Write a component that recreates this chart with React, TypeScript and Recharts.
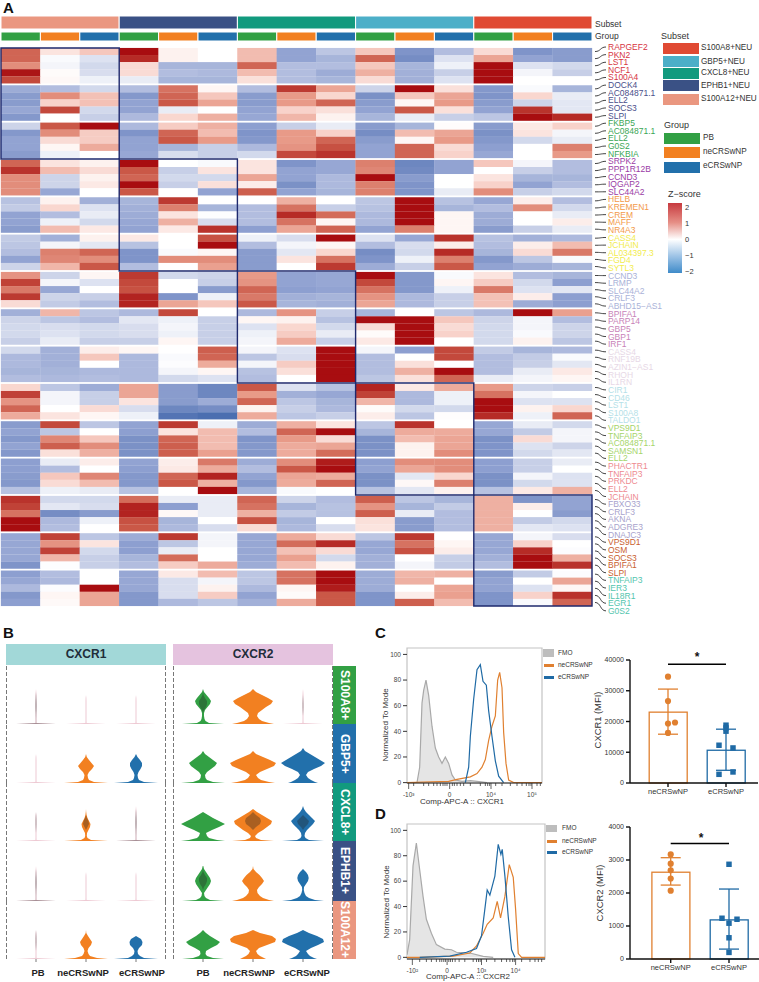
import {
  Area,
  Bar,
  BarChart,
  ComposedChart,
  ErrorBar,
  Line,
  ReferenceArea,
  ReferenceLine,
  Scatter,
  ScatterChart,
  XAxis,
  YAxis,
  ZAxis,
} from "recharts";

const FONT = "'Liberation Sans', Arial, sans-serif";

const subsetNames = ["S100A12+NEU", "EPHB1+NEU", "CXCL8+NEU", "GBP5+NEU", "S100A8+NEU"];
const subsetColors = ["#ea9780", "#3a5185", "#129a7e", "#4cafc8", "#e04a33"];
const groupNames = ["PB", "neCRSwNP", "eCRSwNP"];
const groupColors = ["#32a044", "#f28021", "#2270ab"];

const genes = [
  "RAPGEF2", "PKN2", "LST1", "NCF1", "S100A4",
  "DOCK4", "AC084871.1", "ELL2", "SOCS3", "SLPI",
  "FKBP5", "AC084871.1", "ELL2", "G0S2", "NFKBIA",
  "SRPK2", "PPP1R12B", "CCND3", "IQGAP2", "SLC44A2",
  "HELB", "KREMEN1", "CREM", "MAFF", "NR4A3",
  "CASS4", "JCHAIN", "AL034397.3", "FGD4", "SYTL3",
  "CCND3", "LRMP", "SLC44A2", "CRLF3", "ABHD15−AS1",
  "BPIFA1", "PARP14", "GBP5", "GBP1", "IRF1",
  "CASS4", "RNF19B", "AZIN1−AS1", "RHOH", "IL1RN",
  "CIR1", "CD46", "LST1", "S100A8", "TALDO1",
  "VPS9D1", "TNFAIP3", "AC084871.1", "SAMSN1", "ELL2",
  "PHACTR1", "TNFAIP3", "PRKDC", "ELL2", "JCHAIN",
  "FBXO33", "CRLF3", "AKNA", "ADGRE3", "DNAJC3",
  "VPS9D1", "OSM", "SOCS3", "BPIFA1", "SLPI",
  "TNFAIP3", "IER3", "IL18R1", "EGR1", "G0S2",
];
const geneColors = [
  "#d7343f", "#4a4f8a", "#3aa655", "#9a3ba5", "#f39a4a",
  "#f2ec4e", "#a9b2d8", "#c882b8", "#e7d8e6", "#b5dfe8",
  "#a5d56a", "#ee8a90", "#a8a3cc", "#c9602f", "#53c5ae",
];

// z-scores, one row per gene, 15 columns
const zRows = [
  [1.4, .3, .6, 2, .15, 0, .7, -1, -.6, .6, -1.2, -.7, .4, -1.2, -1.1],
  [1.4, -.05, -.3, 1.8, .15, 0, .7, -1, -.8, 1.4, -1.3, -.3, .9, -1, -1.1],
  [1.1, -.1, -.4, .4, -.8, -.8, 1.4, -.7, -.7, .6, -.8, -.15, 2, -.3, -.4],
  [1.95, .05, -.35, .4, -.7, -.75, .7, -.7, -.9, .8, -.85, -.5, 2, -.1, -.5],
  [1.6, .08, -.15, -.2, -.8, -.8, .35, -.7, -.8, .4, -.85, -.3, 2, 0, 0],

  [-.9, -.7, -.4, -.7, 1.3, .1, -.7, 1.7, .9, -.45, 2, .35, -1.15, -.05, -.8],
  [-1.1, 1.1, .65, -1.15, 1.4, .6, -1.1, 1, .45, -1.25, .6, .9, -1.2, .45, -.2],
  [-1.1, .5, .65, -1, 1.5, .9, -1.1, 1, 1.4, -1.1, .1, 1, -1.1, -.45, -.25],
  [-.95, 1.6, -.4, -1, -.2, 0, -1, .5, .35, -1, 1.5, .35, -1, 1.75, -.25],
  [-1.15, 0, -.5, -.75, .45, .8, -.95, .75, .15, -.8, -.2, -.5, -.6, 2, 1.8],

  [-.45, 1.5, 2, -.75, .55, .8, -1.05, -.5, -.2, -1.1, -.8, .03, -1.1, .25, .5],
  [-1.15, 1.1, .55, -1.2, 1.4, .7, -1.2, 1, .5, -1.3, .7, .9, -1.25, .3, -.1],
  [-1, .4, .55, -1, 1.5, 1, -1.15, 1, 1.4, -1.1, .1, 1, -1.15, -.4, -.2],
  [-1, .1, .85, -1, -.8, -.5, -.75, 1.05, 1.55, -1, 1.4, .4, -1.05, 0, 1.2],
  [-1.1, -.15, 0, -.95, -.35, -.5, -.4, 1.6, 1.75, -1, 1.4, .5, -.95, 0, 1],

  [1.4, .3, .15, 2, 0, -.05, .3, -1.2, -.95, 1.2, -1.4, -1, .6, -.1, -.7],
  [1.75, .7, .4, 1.5, -.5, .3, .3, -1, -.95, 1.15, -1.35, -1, 0, -.5, -.7],
  [1.1, -.45, .15, 1.4, -.4, -.4, .9, -1, -.75, 2, -1.1, 0, .3, -.8, -.8],
  [1.1, -.45, .25, 2, -.5, .35, .2, -1.25, -.75, 1.2, -1.2, 0, .5, -1, -.7],
  [1.1, -.95, 0, 1.5, 0, -1, 1.45, -1, -.8, 1.2, -1.2, -.2, 1.1, -.5, -.4],

  [-.65, .15, -.85, -.8, 1.7, 0, 0, .8, 0, -.6, 2, -.65, -.95, .2, -.7],
  [-.55, .45, -.3, -.85, 1.2, -.8, -.7, 1.3, -.5, -.65, 2, -.8, -.7, 1.1, -.4],
  [-1, -.7, -.2, -.9, .3, -.02, -.7, 1.8, 1.35, -.75, 2, .1, -.9, 0, -.2],
  [-1, -.15, -.4, -.95, .8, -.35, -.7, 1.3, .1, -.75, 2, .1, -.9, 0, .2],
  [-1.1, .7, .25, -1, .25, 1.75, -1.05, .9, 1.4, -1, 1.2, .1, -1.1, -.5, -.2],

  [-.55, -.85, .15, .25, 0, 1.55, -.15, -.35, 2, -.3, -.95, 1.75, -.65, -.85, -.75],
  [-.6, -.1, -.25, -.65, 0, 2, -.7, -.1, .1, -.7, -.35, .2, -.7, .2, .7],
  [-.7, 1.2, 1.4, -1.2, -.05, .1, -1.1, -.25, .45, -1.3, -.4, 1.8, -.8, .4, 1.25],
  [-1, 1.15, 1.1, -1.2, 1.1, 1.1, -1.1, .3, 1.3, -1.2, -.15, 1.2, -1.15, -.6, -.05],
  [-.45, .75, 1.5, -.7, 0, .95, -1.1, 0, 1.7, -.9, -.5, 1.5, -1, -.9, -.8],

  [1.05, -.45, .1, 1.7, -.4, -.45, 1, -1, -.95, 2, -1.15, -.05, .3, -.7, -.8],
  [1.65, -.1, -.3, 1.6, 0, -.5, 1.05, -1, -.95, 1.6, -1.15, .1, .55, -.4, -1.05],
  [1.25, -.95, 0, 1.55, 0, -1.1, 1.4, -1.05, -1, 1.3, -1.15, -.15, 1.25, -.3, -.25],
  [1.7, -.45, -.5, 1.85, -1.2, -.15, 1.25, -.85, -.8, 1.05, -.75, -.5, .65, .2, -1.05],
  [.4, -.55, -.7, 1.85, .9, .6, 1.5, -.8, -.85, .9, -.75, -.5, .65, -.9, -1.05],

  [-.85, .75, -.6, -.75, 1.6, 0, -.75, 1.05, -.5, -.8, 0, -.6, -.75, 2, .95],
  [-.45, -.6, -.7, -.25, -.15, -.5, .1, .15, -.65, 2, 2, .6, -.45, -.1, -.7],
  [-.4, -.35, -.4, -.35, -.1, -.5, -.3, .45, -.4, .4, 2, .4, -.4, -.1, -.45],
  [-.4, -.3, -.4, -.35, -.15, -.5, -.15, .55, -.2, .05, 2, .5, -.4, -.05, -.45],
  [-.5, -.2, -.5, -.5, .1, -.5, -.1, .85, -.5, .25, 2, 0, -.4, .15, -.6],

  [-.4, -.85, .2, .1, 0, 1.45, -.1, -.3, 2, -.1, -1.05, 1.6, -.55, -.8, -.75],
  [-.75, -.85, .6, -.75, -.05, 1.4, -.6, -.35, 2, -.7, 0, 1.6, -.7, -.55, -.05],
  [-.75, -.85, 0, -.75, -.03, .85, -.1, .55, 2, -.7, .35, 0, -.7, -.5, -.25],
  [-.8, -.8, -.75, -.75, -.1, .1, -.65, .35, 2, -.7, .8, 2, -.7, -.2, .25],
  [-.7, -.75, -.7, -.75, -.4, -.3, -.7, 0, 2, -.6, .35, 1.4, -.2, -.1, .1],

  [.45, -.6, -.9, .9, -1.1, -1.4, 1.5, -.3, -.65, 1.85, .25, .85, 1, -.45, -.5],
  [1.65, -.1, -.5, .9, -1.1, -1.4, 1, -.85, -.95, 1.65, -.75, -.15, 1.3, -.1, 0],
  [1.05, -.1, -.5, .3, -1.1, -.9, 1.4, -.6, -.8, .75, -.75, -.15, 2, -.3, -.3],
  [1.4, 0, .4, -.35, -1.4, -1.3, .15, -.5, -.75, .05, -.4, -.4, 2, .15, .45],
  [.85, .3, .1, -.15, -1.7, -1.8, .85, -.6, -.5, .2, -.6, .02, 1.8, -.15, 1.4],

  [-1.1, 1.6, -.6, -1, 1.7, -.15, -.9, .8, .3, -.6, 1.75, 0, -.95, -.2, -.4],
  [-1, -.6, 0, -1.05, .3, .7, -.7, 1.4, 2, -.8, .85, .85, -.95, -.55, -.1],
  [-1.15, 1.15, .6, -1.25, 1.4, .7, -1.2, 1, .4, -1.25, .7, .9, -1.25, .4, -.1],
  [-1, 1.45, 1.1, -1.25, 1.45, .7, -1.15, .85, .9, -1.25, .15, .9, -1.2, -.3, -.45],
  [-1.15, .35, .8, -1.25, 1.45, .95, -1.15, .85, 1.35, -1.25, .15, 1.1, -1.2, -.4, -.25],

  [-1.05, -.2, .2, -1, .2, 1.25, -.9, 1.1, 1.9, -1.05, 1.1, 1.1, -1.05, -.5, -.2],
  [-1.05, -.7, 0, -1.05, .25, .85, -.7, 1.5, 2, -1, .9, 1.1, -1.05, -.5, 0],
  [-1.1, .6, 1.15, -1.15, 1.4, 1.85, -1, .9, .85, -1.25, -.25, .45, -1.25, -.1, -.3],
  [-1.15, .4, .7, -1.15, 1.5, .8, -1.15, .85, 1.4, -1.25, .08, 1.2, -1.25, -.4, -.3],
  [-.65, -.15, -.2, -.65, 0, 2, -.8, -.05, 0, -.65, -.25, .15, -.65, .25, .8],

  [1.75, -.4, -.4, 1.35, -.2, -.2, 1.4, -.45, -.7, 1.45, -.6, -.8, .8, -1.2, -1],
  [1.65, -.25, -.35, 1.85, -1.05, -.2, 1.3, -.8, -.65, 1.05, -.8, -.55, .8, .2, -1],
  [1.3, -1.3, -1.1, 1.85, .08, -.2, .8, -.55, -.65, 1.45, -.2, -.7, .8, 0, -1.1],
  [2, -.75, -.15, 1.55, -.8, 0, 1.55, -.8, 0, .35, -1.1, -.7, .8, -.55, -.4],
  [2, -.7, 0, 1.5, -.75, -.35, .4, -.75, -.35, .3, -1.1, -.7, .8, -.25, -.3],

  [-.95, 1.65, -.6, -.9, 1.7, -.1, -.95, .85, .4, -.6, 1.7, 0, -.95, -.1, -.35],
  [-.95, 1.05, .3, -1.05, -.6, -.1, -.95, 1.35, 1.8, -.95, 1.3, .1, -.95, .5, 0],
  [-.95, 1.65, -.4, -1.05, -.2, 0, -.95, .65, .4, -.95, 1.55, .2, -.95, 1.8, -.03],
  [-.95, .75, -.5, -.8, 1.35, 0, -.95, .95, -.4, -.85, 0, -.5, -.85, 2, .8],
  [-1.2, -.02, -.5, -.7, .55, .85, -.9, .7, .15, -.85, -.1, -.55, -.7, 2, 1.75],

  [-1.05, -.7, 0, -.95, .25, .7, -.6, 1.3, 2, -.9, .75, .8, -1.1, -.55, -.03],
  [-.95, -.75, 0, -.95, -.35, -.1, -.6, 1.3, 2, -.9, .8, 0, -1, 0, .9],
  [-.75, -.03, 2, -.95, -.35, .15, -.75, .1, 1.9, -.9, 0, .9, -1, -.3, .1],
  [-1.15, .1, .9, -1.15, -.35, .55, -1, .05, 1.5, -1.2, .2, .95, -1.2, .5, 1.75],
  [-1.05, .07, .9, -1.15, -.75, -.6, -.85, .85, 1.5, -1.2, 1.45, .7, -1.2, -.05, 1.4],
];

// violin half widths at these heights above the baseline
const violinLevels = [0, 1, 3, 5, 8, 11, 14, 17, 20, 23, 26, 29, 32, 35];
const thinTall = [20, .6, .5, .5, .5, .5, .5, .5, .5, .5, .5, .5, .3, 0];
const thinShort = [20, .6, .5, .5, .5, .5, .5, .5, .5, .5, .4, 0, 0, 0];

const cxcr1Widths = [
  [thinTall, thinShort, thinShort],
  [thinShort, [22, 8, 3, 2, 1.5, 3, 6, 8, 5.5, 3, .8, 0, 0, 0], [22, 8, 3, 2, 1.5, 2.5, 4.5, 6, 6, 4, 1.5, 0, 0, 0]],
  [thinShort, [22, 5, 1.5, .8, 1, 2.5, 4, 4.5, 3, 1.5, .6, .2, 0, 0], thinTall],
  [thinTall, thinShort, thinShort],
  [thinShort, [22, 11, 4, 2.5, 1.5, 2.5, 5, 6, 4, 2, .3, 0, 0, 0], [22, 8, 4, 2, 1.5, 3, 6, 6.5, 5, 0, 0, 0, 0, 0]],
];
const cxcr2Widths = [
  [[21, 6, 2.5, 1.5, 1, 1, 2, 4.5, 7, 8, 6, 3.5, 1, 0], [21, 16, 9, 6, 4, 5, 9, 13, 18, 20, 15, 9, 3, 0], thinTall],
  [[22, 10, 4, 2.5, 2, 4, 8, 12, 14, 10, 6, 2, 0, 0], [22, 16, 8, 5, 3, 7, 14, 21, 23, 17, 10, 3, 0, 0], [15, 12, 8, 5, 3, 5, 11, 18, 22, 17, 12, 7, 2, 0]],
  [[22, 14, 6, 4, 3, 9, 16, 22, 16, 10, 5, 0, 0, 0], [21, 8, 3, 2, 5, 10, 14, 18, 19, 14, 9, 4, 0, 0], [21, 6, 2.5, 1.5, 2, 4, 7, 10, 12, 9, 6, 3, 1, 0]],
  [[21, 7, 3, 1.5, 1, 3, 5, 7, 8, 7, 5, 3, 1, .3], [21, 16, 10, 7, 4.5, 4, 6, 9, 11, 9, 6.5, 3, .5, 0], [21, 12, 6, 3, 1.5, .8, 1, 3, 5, 5.7, 5, 3, 0, 0]],
  [[21, 10, 4, 2.5, 3, 8, 14, 17, 12, 7, 3, 0, 0, 0], [13, 11, 7, 4.5, 3, 6, 14, 22, 23, 19, 7, 0, 0, 0], [14, 11, 7, 5, 3, 8, 15, 21, 20, 14, 6, 0, 0, 0]],
];

const coreNone = [0, 0, 0, 0, 0, 0, 0, 0, 0, 0, 0, 0, 0, 0];
const coreThin = [20, .2, .2, .2, .3, .4, .6, .7, .7, .6, .4, .2, 0, 0];
const coreFaint = [0, 0, 0, 0, 0, .2, .4, .5, .5, .4, .2, 0, 0, 0];
const cxcr1Cores = [
  [coreThin, coreNone, coreNone],
  [coreNone, coreNone, coreNone],
  [coreFaint, [0, 0, 0, 0, 0, 0, 1.5, 3, 2.5, 1, 0, 0, 0, 0], coreThin],
  [coreThin, coreNone, coreNone],
  [coreFaint, coreNone, coreNone],
];
const cxcr2Cores = [
  [[0, 0, 0, 0, 0, 0, 1, 3, 4, 4, 2, .5, 0, 0], coreNone, coreFaint],
  [coreNone, coreNone, coreNone],
  [coreNone, [0, 0, 0, 0, 0, 0, 3, 7, 8, 7, 3, 0, 0, 0], [0, 0, 0, 0, 0, 0, 2, 5, 6, 3, 0, 0, 0, 0]],
  [[0, 0, 0, 0, 0, 0, 1, 3, 4, 4, 2, .5, 0, 0], coreNone, coreNone],
  [coreNone, coreNone, coreNone],
];
const violinCenters = [30, 80, 130];
const cxcr1LabelShift = [2, -3, 6];
const cxcr2LabelShift = [0, -4, 4];
const stripLabels = ["S100A8+", "GBP5+", "CXCL8+", "EPHB1+", "S100A12+"];
const stripColors = ["#32a044", "#2270ab", "#129a7e", "#3a5185", "#ea9780"];
const facetBases = [724, 783, 841, 901, 959];

// flow cytometry overlays: [channel, % of mode]
const fmoC = [[110, 0], [140, 0], [148, 12], [155, 62], [160, 72], [167, 80], [175, 68], [185, 44], [195, 27], [205, 20], [215, 15], [225, 20], [235, 15], [245, 6], [255, 2], [275, 1], [300, 1.5], [320, 1], [350, 0]];
const neC = [[110, 0], [235, 1], [260, 2.5], [300, 4.5], [320, 7], [335, 12], [345, 18], [355, 33], [365, 44], [375, 52], [382, 80], [388, 86], [395, 74], [400, 39], [407, 15], [415, 2], [430, 0], [515, 0]];
const eC = [[285, 0], [295, 12], [300, 36], [310, 65], [320, 88], [330, 92], [338, 79], [348, 76], [355, 56], [365, 36], [375, 17], [385, 5], [400, 0]];
const fmoD = [[112, 2], [120, 14], [130, 72], [140, 90], [150, 69], [160, 48], [170, 30], [185, 19], [200, 10], [225, 6.5], [245, 6], [260, 4], [300, 3.4], [340, .8], [370, 0]];
const neD = [[112, 0], [150, 0], [250, 1], [300, 3.4], [320, 9], [340, 19], [352, 26], [370, 31], [382, 44], [392, 31], [405, 48], [418, 73], [430, 63], [437, 38], [445, 3], [455, 0], [525, 0]];
const eD = [[150, 0], [240, 1], [290, 4], [320, 7], [335, 17], [345, 38], [352, 53], [360, 49], [375, 64], [385, 89], [393, 81], [397, 85], [405, 64], [415, 32], [425, 6], [435, 0]];
const ticksC = [115, 130, 160, 175, 190, 200, 210, 218, 224, 230, 238, 246, 252, 260, 270, 280, 300, 330, 345, 352, 358, 362, 376, 395, 420, 440, 455, 468, 476, 482, 485, 500, 510];
const ticksD = [128, 150, 170, 185, 200, 210, 216, 222, 227, 232, 237, 242, 248, 256, 268, 285, 310, 320, 326, 331, 335, 350, 375, 395, 410, 420, 428, 433, 437, 455, 480, 495, 505, 515];
const majorC: Record<number, string> = { 115: "-10³", 238: "0", 362: "10⁴", 485: "10⁵" };
const majorD: Record<number, string> = { 128: "-10²", 232: "0", 335: "10³", 437: "10⁴" };
const histTicksY = [0, 20, 40, 60, 80, 100];

// MFI bars
const mfi1Means = [23040, 10650];
const mfi1ErrLow = [15870, 4130];
const mfi1ErrHigh = [30540, 17500];
const mfi1Ne = [[38, 34565], [38, 26630], [38, 19350], [45, 19670], [38, 16300]];
const mfi1E = [[96, 18800], [96, 17900], [96, 16850], [89, 12280], [103, 11400], [103, 3590], [89, 2826]];
const mfi2Means = [2630, 1185];
const mfi2ErrLow = [2240, 300];
const mfi2ErrHigh = [3070, 2120];
const mfi2Ne = [[40.7, 3170], [40.7, 2890], [40.7, 2690], [40.7, 2440], [40.7, 2070]];
const mfi2E = [[99, 2870], [92, 1235], [107, 1205], [99, 1085], [99, 643], [99, 200]];

const ROW_GAP = 0.27;
const rowPos = (i: number) => i + 0.5 + Math.floor(i / 5) * ROW_GAP;
const groupEdge = (g: number) => (g === 0 ? 0 : g === 15 ? 75 + 14 * ROW_GAP : g * (5 + ROW_GAP) - ROW_GAP / 2);

const colorStops: [number, number[]][] = [
  [-2, [58, 98, 168]],
  [-1.3, [118, 141, 196]],
  [-1, [146, 163, 210]],
  [-0.5, [199, 207, 231]],
  [0, [255, 255, 255]],
  [0.5, [248, 210, 202]],
  [1, [232, 154, 136]],
  [1.5, [202, 88, 71]],
  [2, [168, 13, 16]],
];
const zColor = (z: number) => {
  for (let i = 1; i < colorStops.length; i++) {
    const [z0, c0] = colorStops[i - 1];
    const [z1, c1] = colorStops[i];
    if (z <= z1) {
      const t = Math.max(0, (z - z0) / (z1 - z0));
      return `rgb(${c0.map((c, k) => Math.round(c + (c1[k] - c) * t)).join(",")})`;
    }
  }
  return "rgb(168,13,16)";
};

const heatCells = zRows.flatMap((row, i) => row.map((z, c) => ({ x: c + 0.5, y: rowPos(i), z })));
const geneRows = genes.map((gene, i) => ({ x: 15, y: rowPos(i), gene, i }));

const HeatCell = (p: any) => (
  <rect x={p.cx - 19.85} y={p.cy - 3.6} width={39.7} height={7.2} fill={zColor(p.payload.z)} />
);

const GeneLabel = (p: any) => {
  const ly = 47 + p.payload.i * 7.62;
  const x0 = p.cx + 3;
  return (
    <g>
      <path d={`M${x0},${p.cy} C${x0 + 6},${p.cy} ${x0 + 5},${ly} ${x0 + 11},${ly}`} fill="none" stroke="#111" strokeWidth={0.8} />
      <text x={608} y={ly + 3} fontSize={8.5} fontFamily={FONT} fill={geneColors[Math.floor(p.payload.i / 5)]}>
        {p.payload.gene}
      </text>
    </g>
  );
};

const heatMargin = { top: 48, left: 1, right: 167, bottom: 19 };
const boxStarts = [0, 3, 6, 9, 12];

const Heatmap = () => (
  <>
    <div style={{ position: "absolute", left: 0, top: 0 }}>
      <ScatterChart width={759} height={625} margin={heatMargin}>
        <XAxis type="number" dataKey="x" domain={[0, 15]} hide />
        <YAxis type="number" dataKey="y" domain={[0, groupEdge(15)]} reversed hide />
        <Scatter data={heatCells} shape={HeatCell} isAnimationActive={false} />
        <Scatter data={geneRows} shape={GeneLabel} isAnimationActive={false} />
      </ScatterChart>
    </div>
    {/* cluster boxes go in a second chart so they sit over the cells */}
    <div style={{ position: "absolute", left: 0, top: 0 }}>
      <ScatterChart width={759} height={625} margin={heatMargin}>
        <XAxis type="number" dataKey="x" domain={[0, 15]} hide />
        <YAxis type="number" dataKey="y" domain={[0, groupEdge(15)]} reversed hide />
        <Scatter data={geneRows} shape={() => <g />} isAnimationActive={false} />
        {boxStarts.map((s) => (
          <ReferenceArea
            key={s}
            x1={s}
            x2={s + 3}
            y1={groupEdge(s)}
            y2={groupEdge(s + 3)}
            fill="none"
            fillOpacity={0}
            stroke="#1f2a6e"
            strokeWidth={1.4}
          />
        ))}
      </ScatterChart>
    </div>
  </>
);

const AnnotationBar = ({ top, height, colors, span }: { top: number; height: number; colors: string[]; span: number }) => {
  const row: Record<string, number | string> = { name: "a" };
  colors.forEach((_, i) => (row[`b${i}`] = span));
  return (
    <div style={{ position: "absolute", left: 1, top }}>
      <BarChart width={591} height={height} layout="vertical" data={[row]} margin={{ top: 0, left: 0, right: 0, bottom: 0 }} barCategoryGap={0}>
        <XAxis type="number" domain={[0, 15]} hide />
        <YAxis type="category" dataKey="name" hide />
        {colors.map((c, i) => (
          <Bar key={i} dataKey={`b${i}`} stackId="s" fill={c} stroke="#fff" strokeWidth={1} isAnimationActive={false} />
        ))}
      </BarChart>
    </div>
  );
};

const facetTick = (shift: number[]) => (p: any) => {
  const k = violinCenters.indexOf(p.payload.value);
  return (
    <g>
      <line x1={p.x} x2={p.x} y1={p.y - 8} y2={p.y - 5} stroke="#555" strokeWidth={0.8} />
      <text x={p.x + shift[k]} y={p.y + 9} fontSize={9.5} fontWeight={700} textAnchor="middle" fontFamily={FONT} fill="#222">
        {groupNames[k]}
      </text>
    </g>
  );
};

const Facet = ({ widths, cores, left, base, last, shift }: { widths: number[][]; cores: number[][]; left: number; base: number; last: boolean; shift: number[] }) => {
  const rows = violinLevels.map((y, l) => {
    const row: Record<string, any> = { y };
    violinCenters.forEach((c, k) => {
      row[`v${k}`] = [c - widths[k][l], c + widths[k][l]];
      row[`c${k}`] = [c - cores[k][l], c + cores[k][l]];
    });
    return row;
  });
  return (
    <div style={{ position: "absolute", left, top: base - 58 }}>
      <ComposedChart
        width={160}
        height={last ? 82 : 58}
        layout="vertical"
        data={rows}
        margin={{ top: 0, left: 0, right: 0, bottom: 0 }}
      >
        <XAxis
          type="number"
          domain={[0, 160]}
          ticks={violinCenters}
          hide={!last}
          height={24}
          axisLine={false}
          tickLine={false}
          interval={0}
          tick={facetTick(shift)}
        />
        <YAxis type="number" dataKey="y" domain={[0, 58]} reversed hide />
        <ReferenceLine x={0.5} stroke="#555" strokeDasharray="4 2" strokeWidth={0.8} />
        <ReferenceLine x={159.5} stroke="#555" strokeDasharray="4 2" strokeWidth={0.8} />
        {violinCenters.map((_, k) => {
          const isThin = widths[k] === thinTall || widths[k] === thinShort;
          return (
            <Area
              key={k}
              dataKey={`v${k}`}
              type="linear"
              stroke="none"
              fill={isThin ? "#eec9d3" : groupColors[k]}
              fillOpacity={1}
              dot={false}
              activeDot={false}
              isAnimationActive={false}
            />
          );
        })}
        {violinCenters.map((_, k) => (
          <Area
            key={`c${k}`}
            dataKey={`c${k}`}
            type="linear"
            stroke="none"
            fill="#222"
            fillOpacity={0.35}
            dot={false}
            activeDot={false}
            isAnimationActive={false}
          />
        ))}
      </ComposedChart>
    </div>
  );
};

const mergeCurves = (fmo: number[][], ne: number[][], e: number[][]) => {
  const xs = Array.from(new Set([...fmo, ...ne, ...e].map((p) => p[0]))).sort((a, b) => a - b);
  const at = (list: number[][], x: number) => list.find((p) => p[0] === x)?.[1] ?? null;
  return xs.map((x) => ({ x, fmo: at(fmo, x), ne: at(ne, x), e: at(e, x) }));
};

const histTick = (major: Record<number, string>) => (p: any) => {
  const label = major[p.payload.value];
  return (
    <g>
      <line x1={p.x} x2={p.x} y1={p.y - 8} y2={p.y - 8 + (label ? 6 : 3)} stroke="#222" strokeWidth={0.7} />
      {label && (
        <text x={p.x} y={p.y + 6} fontSize={6.5} textAnchor="middle" fontFamily={FONT} fill="#444">
          {label}
        </text>
      )}
    </g>
  );
};

const Histogram = ({ top, left, width, height, data, xDomain, yDomain, ticks, major }: any) => (
  <div style={{ position: "absolute", left, top }}>
    <ComposedChart width={width} height={height} data={data} margin={{ top: 8, left: 0, right: 1, bottom: 0 }}>
      <XAxis
        type="number"
        dataKey="x"
        domain={xDomain}
        ticks={ticks}
        interval={0}
        height={22}
        tick={histTick(major)}
        tickLine={false}
        stroke="#222"
        allowDataOverflow
      />
      <YAxis
        type="number"
        domain={yDomain}
        ticks={histTicksY}
        width={37}
        tickSize={4}
        axisLine={false}
        stroke="#333"
        allowDataOverflow
        tick={{ fontSize: 6.5, fontFamily: FONT, fill: "#444" }}
      />
      <ReferenceArea x1={xDomain[0]} x2={xDomain[1]} y1={yDomain[0]} y2={yDomain[1]} fill="none" fillOpacity={0} stroke="#c4c4c4" strokeWidth={1.2} />
      <Area dataKey="fmo" type="linear" connectNulls stroke="#a9a9a9" strokeWidth={1.2} fill="#e2e2e2" fillOpacity={0.9} dot={false} activeDot={false} isAnimationActive={false} />
      <Line dataKey="ne" type="linear" connectNulls stroke="#e08030" strokeWidth={1.2} dot={false} activeDot={false} isAnimationActive={false} />
      <Line dataKey="e" type="linear" connectNulls stroke="#1f6aa5" strokeWidth={1.2} dot={false} activeDot={false} isAnimationActive={false} />
    </ComposedChart>
  </div>
);

const barStrokes = ["#e08030", "#1f6aa5"];
const MfiBar = (p: any) => (
  <rect x={p.x + p.width / 2 - 19} y={p.y} width={38} height={p.height} fill="#fff" stroke={barStrokes[p.index]} strokeWidth={1.3} />
);

const MfiBars = ({ top, height, domainMax, yTicks, xMax, centers, means, errLow, errHigh, nePoints, ePoints, sigY }: any) => {
  const barRows = centers.map((x: number, i: number) => ({ x, mean: means[i] }));
  const errRows = (i: number) => [{ x: centers[i], y: means[i], err: [means[i] - errLow[i], errHigh[i] - means[i]] }];
  const toPoints = (list: number[][]) => list.map(([x, y]) => ({ x, y }));
  return (
    <div style={{ position: "absolute", left: 590, top }}>
      <ComposedChart width={40 + xMax + 1} height={height} data={barRows} margin={{ top: 10, left: 0, right: 1, bottom: 0 }}>
        <XAxis
          type="number"
          dataKey="x"
          domain={[0, xMax]}
          ticks={centers}
          interval={0}
          height={17}
          tickSize={4}
          stroke="#111"
          strokeWidth={1.4}
          tickFormatter={(v) => groupNames[centers.indexOf(v) + 1]}
          tick={{ fontSize: 7.5, fontFamily: FONT, fill: "#333" }}
        />
        <YAxis
          type="number"
          domain={[0, domainMax]}
          ticks={yTicks}
          width={40}
          interval={0}
          tickSize={4}
          stroke="#111"
          strokeWidth={1.4}
          tick={{ fontSize: 7, fontFamily: FONT, fill: "#333" }}
        />
        <ZAxis range={[30, 30]} />
        <Bar dataKey="mean" shape={MfiBar} isAnimationActive={false} />
        <Scatter data={errRows(0)} dataKey="y" shape={() => <g />} isAnimationActive={false}>
          <ErrorBar dataKey="err" direction="y" width={10} stroke="#e08030" strokeWidth={1.3} isAnimationActive={false} />
        </Scatter>
        <Scatter data={errRows(1)} dataKey="y" shape={() => <g />} isAnimationActive={false}>
          <ErrorBar dataKey="err" direction="y" width={10} stroke="#1f6aa5" strokeWidth={1.3} isAnimationActive={false} />
        </Scatter>
        <Scatter data={toPoints(nePoints)} dataKey="y" fill="#e08030" shape="circle" isAnimationActive={false} />
        <Scatter data={toPoints(ePoints)} dataKey="y" fill="#1f6aa5" shape="square" isAnimationActive={false} />
        <ReferenceLine
          segment={[
            { x: centers[0], y: sigY },
            { x: centers[1], y: sigY },
          ]}
          stroke="#000"
          strokeWidth={1.6}
        />
      </ComposedChart>
    </div>
  );
};

const Txt = ({ x, y, size = 8.5, children, color = "#333", weight = 400, center = false, rotate = false }: any) => (
  <div
    style={{
      position: "absolute",
      left: x,
      top: y,
      transform: rotate ? "translate(-50%, -50%) rotate(-90deg)" : center ? "translate(-50%, -50%)" : "translateY(-50%)",
      fontSize: size,
      color,
      fontWeight: weight,
      whiteSpace: "nowrap",
      lineHeight: 1.2,
      fontFamily: FONT,
    }}
  >
    {children}
  </div>
);

const Swatch = ({ x, y, w, h, color }: any) => (
  <div style={{ position: "absolute", left: x, top: y, width: w, height: h, background: color }} />
);

const legendSubsetTops = [43, 56, 68, 80, 94];
const legendSubsetLabels = [48, 62, 73, 86, 99];
const legendGroupTops = [133, 147, 162];
const legendGroupLabels = [138, 152, 166];
const zTicks = [2, 1, 0, -1, -2];
const zTickYs = [207, 223, 239, 255, 271];

export default function App() {
  const subsetBars = subsetColors;
  const groupBars = subsetColors.flatMap(() => groupColors);
  return (
    <div style={{ position: "absolute", left: 0, top: 0, width: 759, height: 982, background: "#fff", overflow: "hidden", fontFamily: FONT }}>
      <Txt x={3} y={8} size={15} weight={700} color="#111">A</Txt>
      <AnnotationBar top={16} height={13} colors={subsetBars} span={3} />
      <AnnotationBar top={32} height={9} colors={groupBars} span={1} />
      <Heatmap />
      <Txt x={595} y={24} color="#333">Subset</Txt>
      <Txt x={595} y={36} color="#333">Group</Txt>

      <Txt x={661} y={36} size={9}>Subset</Txt>
      {[...subsetColors].reverse().map((c, i) => (
        <Swatch key={c} x={663} y={legendSubsetTops[i]} w={36} h={11} color={c} />
      ))}
      {[...subsetNames].reverse().map((n, i) => (
        <Txt key={n} x={701} y={legendSubsetLabels[i]} size={8.2}>{n}</Txt>
      ))}
      <Txt x={664} y={125} size={9}>Group</Txt>
      {groupColors.map((c, i) => (
        <Swatch key={c} x={664} y={legendGroupTops[i]} w={36} h={11} color={c} />
      ))}
      {groupNames.map((n, i) => (
        <Txt key={n} x={703} y={legendGroupLabels[i]} size={8.2}>{n}</Txt>
      ))}
      <Txt x={668} y={194} size={9}>Z−score</Txt>
      <div
        style={{
          position: "absolute",
          left: 668,
          top: 203,
          width: 14,
          height: 70,
          background: "linear-gradient(#c73a3f, #e68f86 28%, #ffffff 52%, #9dc3e6 76%, #3f8bc9)",
        }}
      />
      {zTicks.map((t, i) => (
        <Txt key={t} x={685} y={zTickYs[i]} size={7.5}>{t > 0 ? t : t === 0 ? "0" : `−${-t}`}</Txt>
      ))}

      <Txt x={3} y={633} size={15} weight={700} color="#111">B</Txt>
      <div style={{ position: "absolute", left: 6, top: 644, width: 160, height: 21, background: "#a2d8d8", color: "#1e2d3a", fontWeight: 700, fontSize: 12, textAlign: "center", lineHeight: "21px" }}>CXCR1</div>
      <div style={{ position: "absolute", left: 173, top: 644, width: 160, height: 21, background: "#e5c3df", color: "#1e2d3a", fontWeight: 700, fontSize: 12, textAlign: "center", lineHeight: "21px" }}>CXCR2</div>
      {facetBases.map((base, r) => (
        <Facet key={`a${r}`} widths={cxcr1Widths[r]} cores={cxcr1Cores[r]} left={6} base={base} last={r === 4} shift={cxcr1LabelShift} />
      ))}
      {facetBases.map((base, r) => (
        <Facet key={`b${r}`} widths={cxcr2Widths[r]} cores={cxcr2Cores[r]} left={173} base={base} last={r === 4} shift={cxcr2LabelShift} />
      ))}
      {stripLabels.map((s, i) => (
        <div
          key={s}
          style={{
            position: "absolute",
            left: 333,
            top: i === 0 ? 666 : facetBases[i - 1],
            width: 23,
            height: facetBases[i] - (i === 0 ? 666 : facetBases[i - 1]),
            background: stripColors[i],
            color: "#fff",
            fontWeight: 700,
            fontSize: 12,
            writingMode: "vertical-rl",
            textAlign: "center",
            lineHeight: "23px",
          }}
        >
          {s}
        </div>
      ))}

      <Txt x={375} y={633} size={15} weight={700} color="#111">C</Txt>
      <Histogram top={640} left={370} width={173} height={165} data={mergeCurves(fmoC, neC, eC)} xDomain={[110, 515]} yDomain={[-0.3, 105]} ticks={ticksC} major={majorC} />
      <Txt x={386} y={725} size={8} rotate>Normalized To Mode</Txt>
      <Txt x={462} y={802} size={8} center>Comp-APC-A :: CXCR1</Txt>
      <Swatch x={543} y={649} w={11} h={8} color="#bdbdbd" />
      <Txt x={558} y={653} size={6.5}>FMO</Txt>
      <Swatch x={544} y={664} w={10} h={2.5} color="#e08030" />
      <Txt x={558} y={665} size={6.5}>neCRSwNP</Txt>
      <Swatch x={544} y={676} w={10} h={2.5} color="#1f6aa5" />
      <Txt x={558} y={677} size={6.5}>eCRSwNP</Txt>
      <MfiBars top={650} height={150} domainMax={40000} yTicks={[0, 10000, 20000, 30000, 40000]} xMax={128} centers={[38, 96]} means={mfi1Means} errLow={mfi1ErrLow} errHigh={mfi1ErrHigh} nePoints={mfi1Ne} ePoints={mfi1E} sigY={38600} />
      <Txt x={598} y={720} size={9.4} rotate>CXCR1 (MFI)</Txt>
      <Txt x={697} y={657} size={12} weight={700} color="#111" center>*</Txt>

      <Txt x={375} y={814} size={15} weight={700} color="#111">D</Txt>
      <Histogram top={816} left={370} width={176} height={165} data={mergeCurves(fmoD, neD, eD)} xDomain={[112, 525]} yDomain={[-1.3, 105]} ticks={ticksD} major={majorD} />
      <Txt x={387} y={902} size={8} rotate>Normalized To Mode</Txt>
      <Txt x={468} y={977} size={8} center>Comp-APC-A :: CXCR2</Txt>
      <Swatch x={546} y={825} w={11} h={7} color="#bdbdbd" />
      <Txt x={562} y={828} size={6.5}>FMO</Txt>
      <Swatch x={547} y={840} w={10} h={2.5} color="#e08030" />
      <Txt x={562} y={841} size={6.5}>neCRSwNP</Txt>
      <Swatch x={547} y={851} w={10} h={2.5} color="#1f6aa5" />
      <Txt x={562} y={852} size={6.5}>eCRSwNP</Txt>
      <MfiBars top={817} height={159} domainMax={4000} yTicks={[0, 1000, 2000, 3000, 4000]} xMax={129} centers={[40.7, 99]} means={mfi2Means} errLow={mfi2ErrLow} errHigh={mfi2ErrHigh} nePoints={mfi2Ne} ePoints={mfi2E} sigY={3500} />
      <Txt x={600} y={893} size={9.4} rotate>CXCR2 (MFI)</Txt>
      <Txt x={701} y={838} size={12} weight={700} color="#111" center>*</Txt>
    </div>
  );
}
